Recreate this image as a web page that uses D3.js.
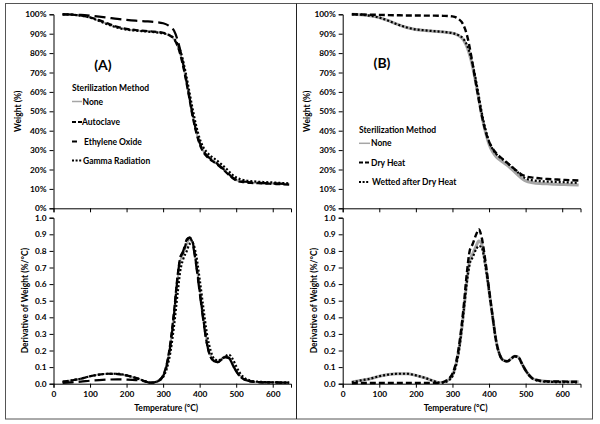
<!DOCTYPE html>
<html><head><meta charset="utf-8">
<script src="https://cdn.jsdelivr.net/npm/d3@7"></script>
<style>body{margin:0;background:#fff}svg{display:block}text{font-family:Lato,"Open Sans",sans-serif;font-weight:bold;fill:#000}</style>
</head><body><svg id="c" width="600" height="424"></svg>
<script>
const tempW = [25,50,75,100,125,150,175,200,225,250,275,300,315,330,340,350,360,370,380,390,400,410,420,430,440,450,460,470,480,490,500,520,540,560,580,600,620,645];
const wNoneA = [100,99.8,99.3,98.3,96.7,94.8,93.2,92.2,91.7,91.3,90.9,90.3,89.3,87,83.5,77.5,69,59,48.5,40,33.5,29.5,27,25.3,24,22.6,21,19.3,17.5,15.8,14.6,13.7,13.3,13.1,12.9,12.8,12.6,12.4];
const wAutoclave = [100,99.8,99.4,98.5,97,95.2,93.6,92.5,91.9,91.5,91.1,90.5,89.5,87.2,83.5,77,68.5,58.5,48,39.5,33,29,26.6,25,23.7,22.3,20.7,19,17.2,15.5,14.3,13.5,13.1,12.9,12.7,12.6,12.4,12.2];
const wEthylene = [100,99.9,99.7,99.3,98.8,98.2,97.6,97.1,96.7,96.4,96.1,95.4,94.2,91.5,86.5,79,69.5,59.5,49,40.3,33.8,29.7,27.2,25.5,24.1,22.7,21.1,19.4,17.6,15.9,14.7,13.8,13.4,13.2,13,12.9,12.7,12.5];
const wGamma = [100,99.8,99.3,98.3,96.6,94.7,93.1,92.1,91.6,91.2,90.8,90.2,89.4,87.5,84.5,79.5,71.5,62,52,43,36,31.5,28.8,27,25.6,24.2,22.6,20.9,19.1,17.3,15.9,14.6,14,13.7,13.5,13.3,13.1,12.9];
const wNoneB = [100,99.8,99.3,98.3,96.7,94.8,93.2,92.2,91.7,91.3,90.9,90.3,89.2,86.8,83,77,68.5,58.5,48,39.5,33,29,26.5,24.8,23.5,22.1,20.5,18.8,17,15.3,14.1,13.2,12.8,12.6,12.4,12.3,12.2,12];
const wDryHeat = [100,99.9,99.8,99.7,99.6,99.5,99.4,99.4,99.3,99.3,99.2,98.9,97.8,94.5,89,80,69,58,48,40,34.3,30.8,28.3,26.5,25,23.4,21.8,20.2,18.6,17.3,16.5,15.8,15.4,15.1,14.9,14.7,14.5,14.3];
const wWetted = [100,99.8,99.3,98.3,96.7,94.8,93.2,92.2,91.7,91.3,90.9,90.3,89.4,87.3,84,78.3,70,60,49.5,41,34.5,30.4,27.9,26.2,24.8,23.3,21.7,20,18.3,16.6,15.4,14.4,14,13.8,13.6,13.5,13.3,13.1];

const tempD = [25,50,75,100,125,150,175,200,225,250,265,280,290,300,310,320,330,340,347,355,365,372,380,390,400,410,420,430,440,450,460,470,480,490,500,510,520,540,560,580,600,620,645];
const dNoneA = [0.01,0.02,0.03,0.045,0.055,0.06,0.06,0.05,0.035,0.015,0.005,0.012,0.025,0.05,0.12,0.24,0.42,0.63,0.74,0.78,0.84,0.87,0.85,0.73,0.57,0.4,0.25,0.17,0.14,0.135,0.15,0.165,0.16,0.12,0.08,0.05,0.03,0.015,0.01,0.008,0.008,0.007,0.005];
const dAutoclave = [0.012,0.02,0.03,0.045,0.055,0.06,0.058,0.05,0.035,0.015,0.006,0.01,0.022,0.05,0.12,0.25,0.44,0.66,0.76,0.79,0.86,0.88,0.86,0.73,0.56,0.39,0.24,0.16,0.135,0.13,0.145,0.16,0.155,0.115,0.075,0.045,0.028,0.014,0.01,0.008,0.008,0.007,0.006];
const dEthylene = [0.005,0.008,0.012,0.018,0.022,0.025,0.026,0.025,0.022,0.014,0.006,0.01,0.02,0.045,0.11,0.23,0.42,0.65,0.76,0.8,0.87,0.88,0.85,0.72,0.55,0.38,0.24,0.16,0.135,0.13,0.145,0.16,0.155,0.115,0.075,0.045,0.028,0.014,0.01,0.008,0.008,0.007,0.006];
const dGamma = [0.01,0.02,0.03,0.045,0.055,0.06,0.06,0.05,0.035,0.016,0.006,0.01,0.02,0.04,0.09,0.19,0.35,0.55,0.68,0.75,0.8,0.84,0.85,0.78,0.63,0.46,0.3,0.2,0.15,0.14,0.15,0.165,0.175,0.15,0.105,0.065,0.04,0.018,0.012,0.01,0.008,0.007,0.006];
const dNoneB = [0.01,0.02,0.03,0.045,0.055,0.06,0.06,0.05,0.035,0.015,0.005,0.012,0.025,0.05,0.12,0.24,0.42,0.63,0.74,0.78,0.83,0.86,0.84,0.72,0.56,0.4,0.25,0.17,0.14,0.135,0.15,0.165,0.16,0.12,0.08,0.05,0.03,0.018,0.014,0.013,0.013,0.012,0.012];
const dDryHeat = [0.003,0.004,0.004,0.005,0.005,0.005,0.005,0.005,0.005,0.005,0.005,0.015,0.03,0.06,0.13,0.26,0.45,0.68,0.8,0.84,0.9,0.93,0.88,0.74,0.57,0.4,0.25,0.17,0.14,0.135,0.15,0.165,0.16,0.12,0.08,0.05,0.03,0.018,0.014,0.013,0.013,0.012,0.012];
const dWetted = [0.008,0.02,0.03,0.045,0.055,0.06,0.06,0.05,0.035,0.015,0.006,0.01,0.02,0.045,0.11,0.23,0.42,0.62,0.72,0.76,0.81,0.83,0.82,0.71,0.56,0.4,0.25,0.17,0.14,0.135,0.15,0.165,0.16,0.12,0.08,0.05,0.03,0.015,0.012,0.01,0.01,0.009,0.008];

const weightTicks = [0,10,20,30,40,50,60,70,80,90,100];
const derivTicks = [0,0.1,0.2,0.3,0.4,0.5,0.6,0.7,0.8,0.9,1.0];
const tempTicks = [0,100,200,300,400,500,600];

const legendA = ["None","Autoclave","Ethylene Oxide","Gamma Radiation"];
const legendB = ["None","Dry Heat","Wetted after Dry Heat"];

const styles = {
  "None": {stroke:"#a6a6a6", w:2, dash:null},
  "NoneB": {stroke:"#a6a6a6", w:3, dash:null},
  "Autoclave": {stroke:"#000", w:2.2, dash:"6,3"},
  "Ethylene Oxide": {stroke:"#000", w:2.2, dash:"11,5"},
  "Gamma Radiation": {stroke:"#000", w:2.2, dash:"2,2"},
  "Dry Heat": {stroke:"#000", w:2.4, dash:"6,3"},
  "Wetted after Dry Heat": {stroke:"#000", w:2.2, dash:"2,2"}
};
const legendDash = {"Autoclave":"4,2","Dry Heat":"4,2","Ethylene Oxide":null,"Gamma Radiation":"2,1.6","Wetted after Dry Heat":"2,1.6"};

const svg = d3.select("#c");
svg.append("rect").attr("x",5.5).attr("y",3.5).attr("width",587).attr("height",415.5).attr("fill","none").attr("stroke","#555").attr("stroke-width",1);
svg.append("line").attr("x1",296.5).attr("x2",296.5).attr("y1",3.5).attr("y2",419).attr("stroke","#222");

function panel(x0, x1, yTop, yBot, yDomain, yTicks, yFmt, yLabel, labelX, series, showX) {
  const x = d3.scaleLinear().domain([0,650]).range([x0,x1]);
  const y = d3.scaleLinear().domain(yDomain).range([yBot,yTop]);
  const g = svg.append("g");
  const ya = g.append("g").attr("transform",`translate(${x0},0)`)
    .call(d3.axisLeft(y).tickValues(yTicks).tickFormat(yFmt).tickSize(4).tickPadding(3));
  const xa = g.append("g").attr("transform",`translate(0,${yBot})`)
    .call(d3.axisBottom(x).tickValues(tempTicks).tickSize(4).tickPadding(3).tickFormat(showX ? d3.format("d") : ""));
  [ya,xa].forEach(a=>{a.selectAll("text").style("font-size","8.3px"); a.select(".domain").attr("stroke","#000"); a.selectAll("line").attr("stroke","#000");});
  g.append("text").attr("transform",`translate(${labelX},${(yTop+yBot)/2}) rotate(-90)`)
    .attr("text-anchor","middle").style("font-size","8.5px").text(yLabel);
  if (showX) g.append("text").attr("x",(x0+x1)/2 - 6).attr("y",yBot+27).attr("text-anchor","middle").style("font-size","8.5px").text("Temperature (°C)");
  const line = d3.line().x(d=>x(d[0])).y(d=>y(d[1])).curve(d3.curveMonotoneX);
  series.forEach(s=>{
    const st = styles[s.style];
    g.append("path").datum(s.t.map((t,i)=>[t,s.v[i]])).attr("d",line)
      .attr("fill","none").attr("stroke",st.stroke).attr("stroke-width",st.w)
      .attr("stroke-dasharray",st.dash).attr("stroke-linejoin","round");
  });
}
const pct = d=>d+"%";
const dfmt = d3.format(".1f");
panel(53.5, 291, 14.3, 208.3, [0,100], weightTicks, pct, "Weight (%)", 21, [
  {t:tempW, v:wNoneA, style:"None"},
  {t:tempW, v:wAutoclave, style:"Autoclave"},
  {t:tempW, v:wEthylene, style:"Ethylene Oxide"},
  {t:tempW, v:wGamma, style:"Gamma Radiation"}], false);
panel(53.5, 291, 217.7, 383.7, [0,1], derivTicks, dfmt, "Derivative of Weight (%/°C)", 28, [
  {t:tempD, v:dNoneA, style:"None"},
  {t:tempD, v:dAutoclave, style:"Autoclave"},
  {t:tempD, v:dEthylene, style:"Ethylene Oxide"},
  {t:tempD, v:dGamma, style:"Gamma Radiation"}], true);
panel(342.7, 580.5, 14.3, 208.3, [0,100], weightTicks, pct, "Weight (%)", 310, [
  {t:tempW, v:wNoneB, style:"NoneB"},
  {t:tempW, v:wWetted, style:"Wetted after Dry Heat"},
  {t:tempW, v:wDryHeat, style:"Dry Heat"}], false);
panel(342.7, 580.5, 217.7, 383.7, [0,1], derivTicks, dfmt, "Derivative of Weight (%/°C)", 317, [
  {t:tempD, v:dNoneB, style:"NoneB"},
  {t:tempD, v:dWetted, style:"Wetted after Dry Heat"},
  {t:tempD, v:dDryHeat, style:"Dry Heat"}], true);

svg.append("text").attr("x",103).attr("y",70).attr("text-anchor","middle").style("font-size","14px").text("(A)");
svg.append("text").attr("x",382).attr("y",68).attr("text-anchor","middle").style("font-size","14px").text("(B)");

function legend(x, yTitle, ys, names, symW, textX) {
  svg.append("text").attr("x",x).attr("y",yTitle+3).style("font-size","8.5px").text("Sterilization Method");
  names.forEach((n,i)=>{
    const st = styles[n==="None" ? (names.length===3?"NoneB":"None") : n];
    const w = symW[i];
    svg.append("line").attr("x1",x).attr("x2",x+w).attr("y1",ys[i]).attr("y2",ys[i])
      .attr("stroke",st.stroke).attr("stroke-width",n==="None"?1.5:2)
      .attr("stroke-dasharray",legendDash[n] || null);
    svg.append("text").attr("x",textX[i]).attr("y",ys[i]+3).style("font-size","8.5px").text(n);
  });
}
legend(72, 87.5, [101.5,122,141.5,160.5], legendA, [10,10,5,10], [82.5,82,84,83]);
legend(359, 129.5, [143.3,162.5,182], legendB, [11,10,10], [371,371,372]);
</script></body></html>
